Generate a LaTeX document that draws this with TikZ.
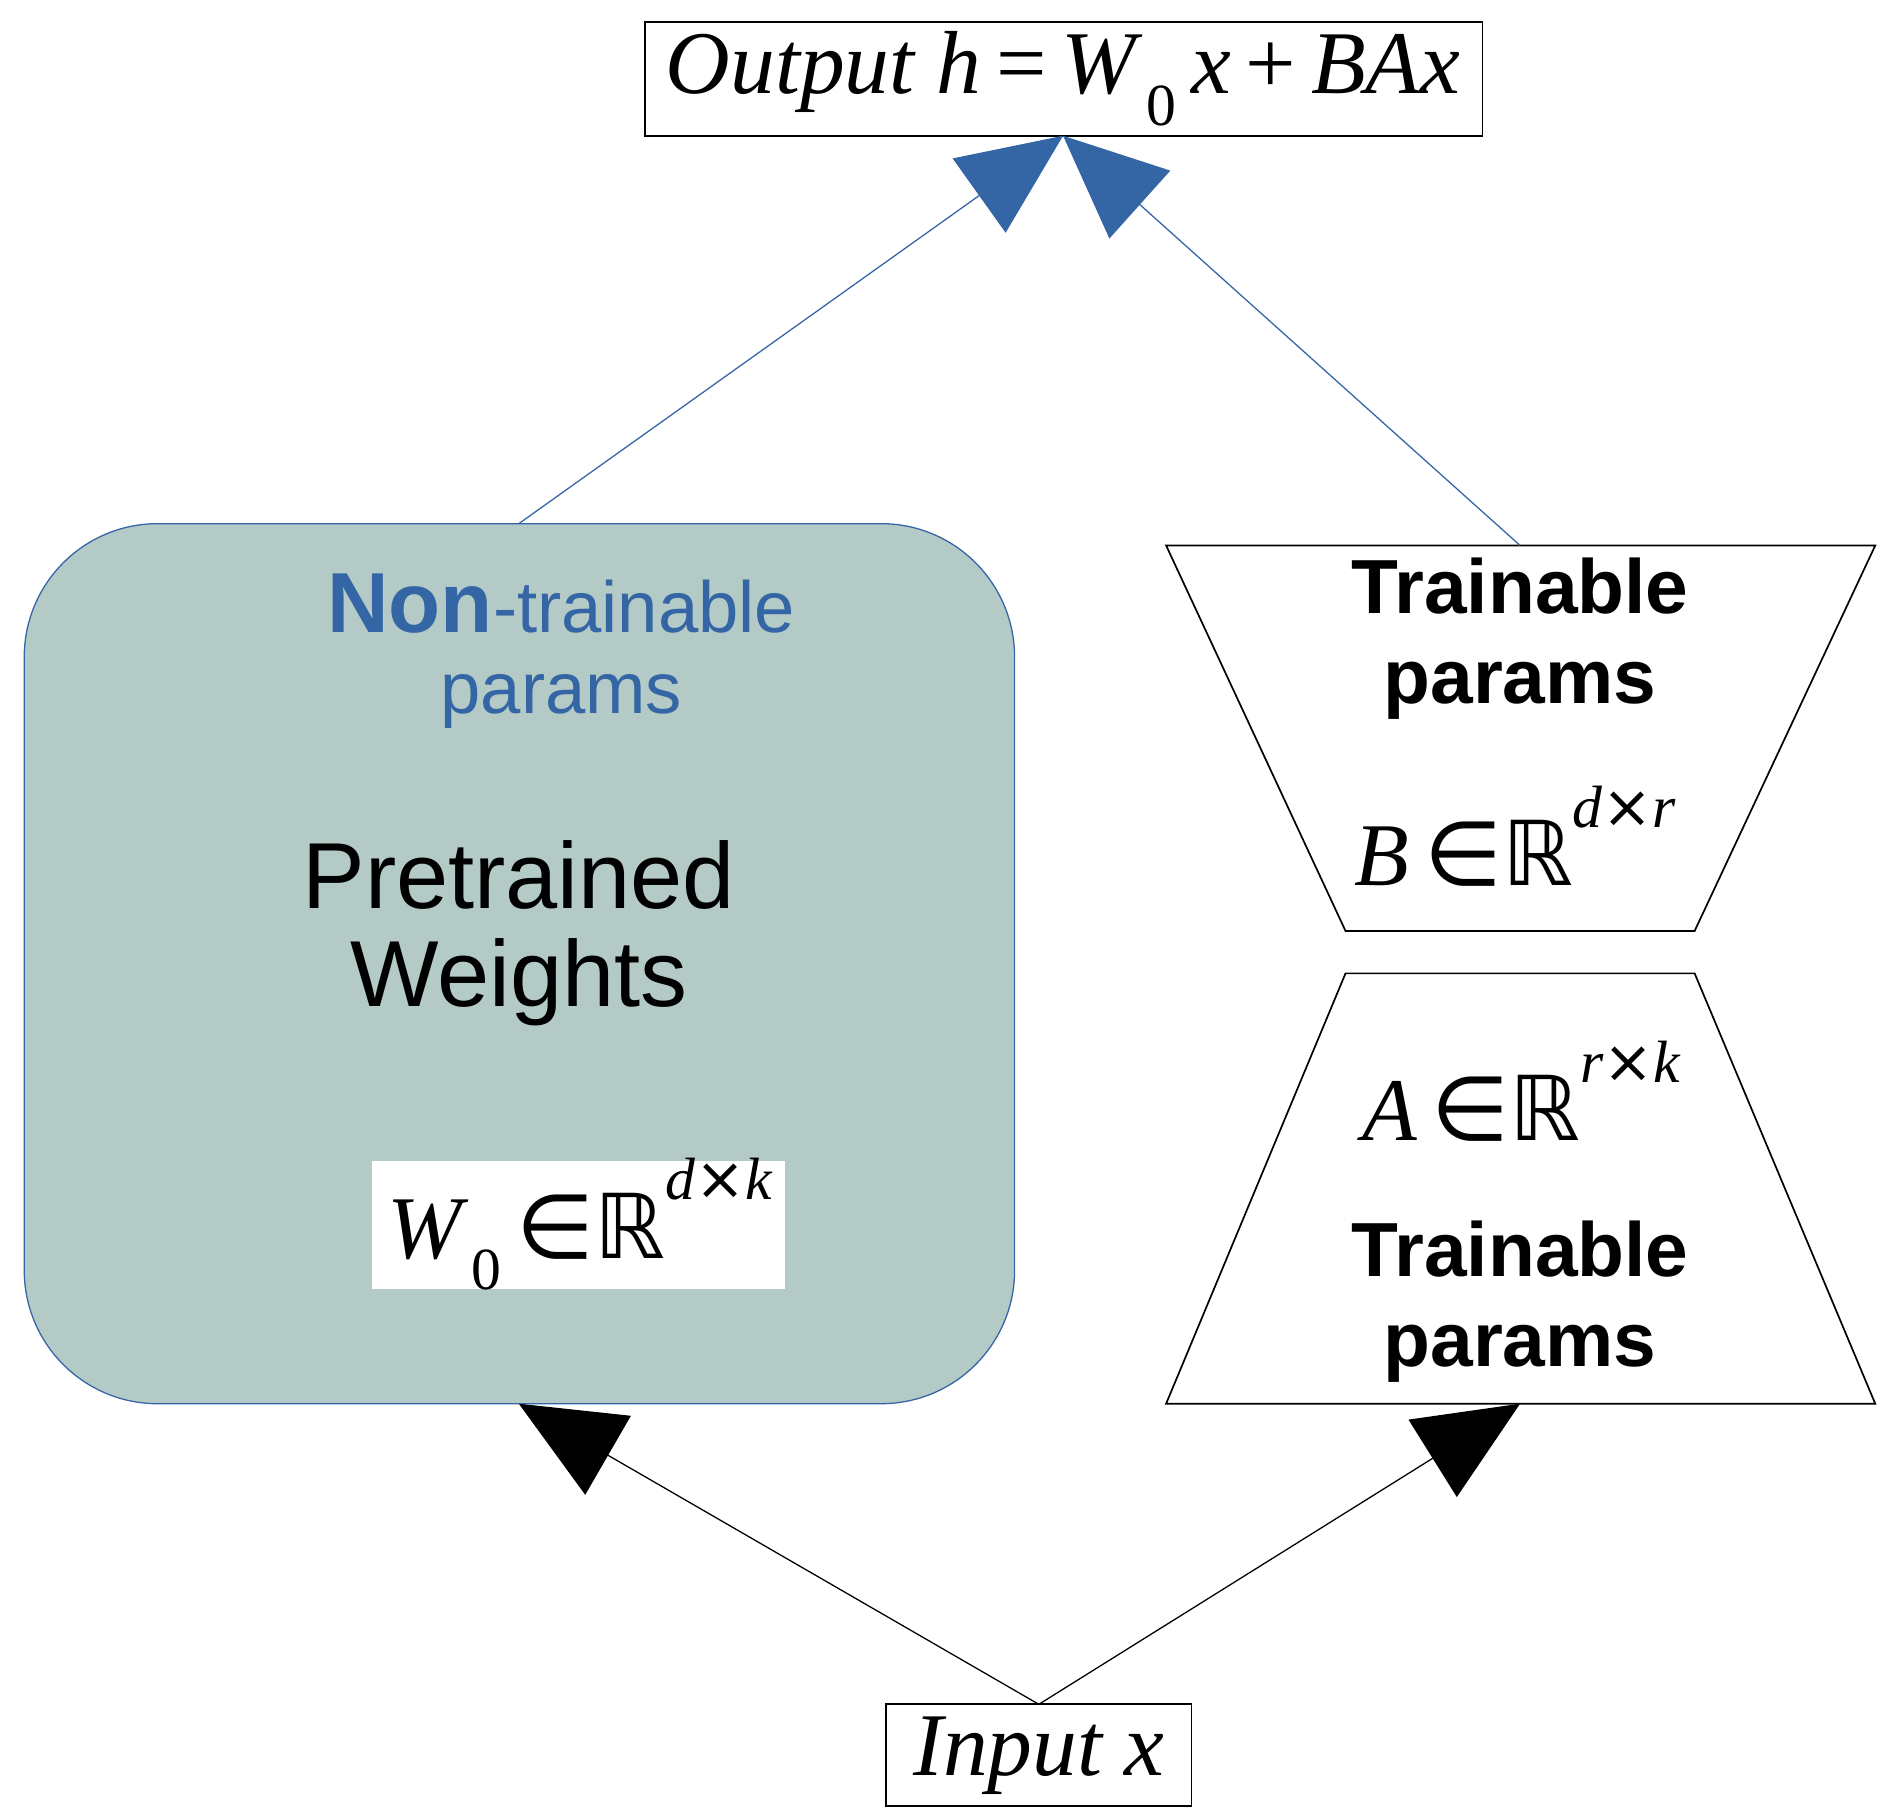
\documentclass[tikz,border=0pt]{standalone}
\usepackage{fontspec}
\setmainfont{Liberation Sans}
\newfontfamily\serifit{Liberation Serif}[Scale=1]
\newfontfamily\dvs{DejaVu Sans}
\usetikzlibrary{arrows.meta}
\definecolor{lblue}{HTML}{3465A4}
\definecolor{sage}{HTML}{B3CAC7}
\newcommand{\mi}[1]{{\serifit\itshape #1}}
\newcommand{\RR}{{\dvs ℝ}}
\newcommand{\inn}{{\dvs\,∈}}
\newcommand{\tms}{{\dvs ×}}
\tikzset{
  box/.style={draw=black, line width=0.4pt, inner sep=0pt},
  up/.style={draw=lblue, line width=0.3pt, -{Triangle[length=0.85cm,width=0.75cm]}, lblue},
  down/.style={draw=black, line width=0.3pt, -{Triangle[length=0.85cm,width=0.75cm]}},
  bt/.style={font=\fontsize{18}{21}\selectfont\bfseries, align=center},
}
\begin{document}
\begin{tikzpicture}[x=0.01cm,y=-0.01cm]
\useasboundingbox (0,0) rectangle (1560,1500);
% output
\draw[box] (532,18) rectangle (1223,112);
\node (out) at (877,65) {\fontsize{21}{26}\selectfont\mi{Output h}\,{\serifit=}\,\mi{W}\raisebox{-0.35em}{\fontsize{14}{17}\selectfont\serifit\,0}\,\mi{x}\,{\serifit+}\,\mi{BAx}};
\coordinate (outb) at (877,112);
% pretrained
\draw[draw=lblue, fill=sage, line width=0.3pt, rounded corners=1.1cm] (20,432) rectangle (837,1158);
\coordinate (pt) at (428,432);
\coordinate (pb) at (428,1158);
\node[align=center, text=lblue, font=\fontsize{17}{19}\selectfont] (nt) at (463,537) {{\fontsize{20}{24}\selectfont\bfseries Non}-trainable\\params};
\node[align=center, font=\fontsize{22}{23}\selectfont] (pw) at (428,770) {Pretrained\\Weights};
\fill[white] (307,958) rectangle (648,1063);
\node (w0) at (478,1010) {\fontsize{21}{26}\selectfont\mi{W}\raisebox{-0.35em}{\fontsize{14}{17}\selectfont\serifit\,0}\inn\RR\raisebox{0.65em}{\fontsize{14}{17}\selectfont\mi{d}\tms\mi{k}}};
% B trapezoid
\draw[box] (962,450) -- (1547,450) -- (1398,768) -- (1110,768) -- cycle;
\coordinate (bt) at (1254,450);
\node[bt] (tb) at (1254,527) {Trainable\\params};
\node (bm) at (1250,690) {\fontsize{21}{26}\selectfont\mi{B}\inn\RR\raisebox{0.65em}{\fontsize{14}{17}\selectfont\mi{d}\tms\mi{r}}};
% A trapezoid
\draw[box] (1110,803) -- (1398,803) -- (1547,1158) -- (962,1158) -- cycle;
\coordinate (ab) at (1254,1158);
\node (am) at (1255,900) {\fontsize{21}{26}\selectfont\mi{A}\inn\RR\raisebox{0.65em}{\fontsize{14}{17}\selectfont\mi{r}\tms\mi{k}}};
\node[bt] (ta) at (1254,1074) {Trainable\\params};
% input
\draw[box] (731,1406) rectangle (983,1490);
\node (in) at (857,1448) {\fontsize{21}{26}\selectfont\mi{Input x}};
\coordinate (int) at (857,1406);
% arrows
\draw[up] (pt) -- (outb);
\draw[up] (bt) -- (outb);
\draw[down] (int) -- (pb);
\draw[down] (int) -- (ab);
\end{tikzpicture}
\end{document}
